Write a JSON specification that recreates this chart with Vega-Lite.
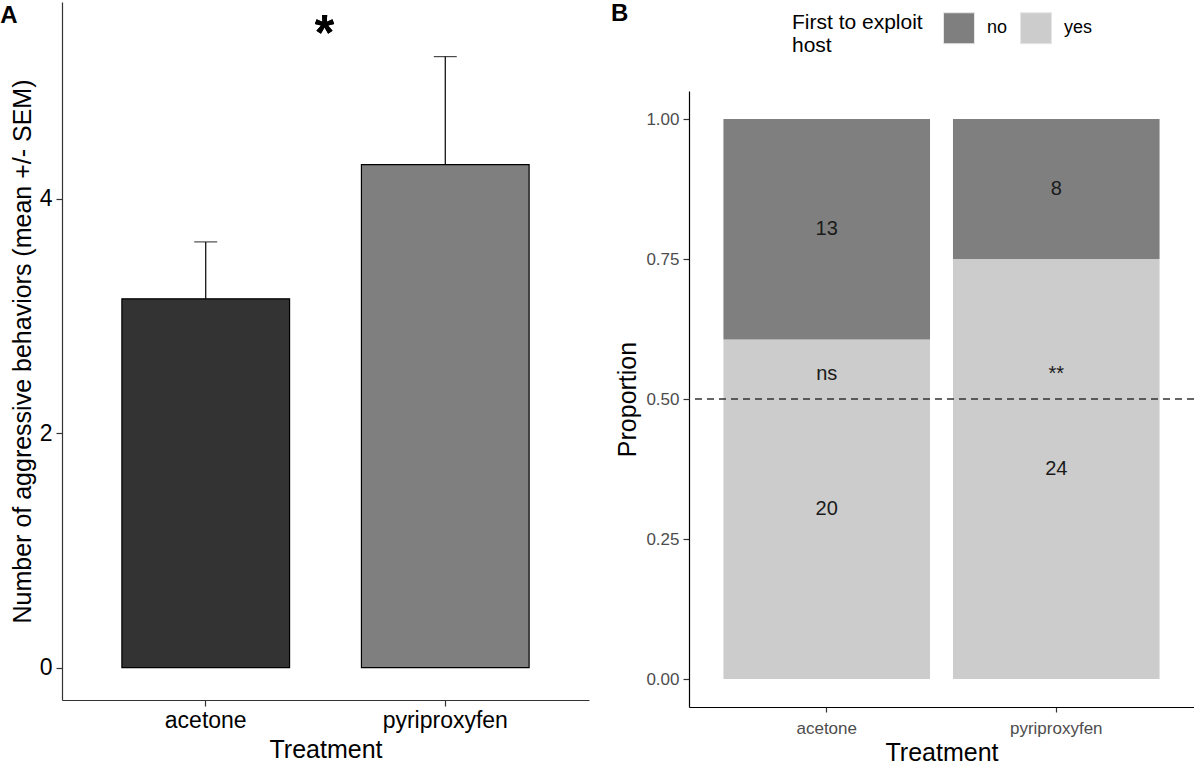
{
  "$schema": "https://vega.github.io/schema/vega-lite/v6.json",
  "padding": {"left": 0, "top": 2, "right": 0, "bottom": 0},
  "background": "white",
  "config": {"font": "Liberation Sans", "view": {"stroke": null}, "axis": {"grid": false}},
  "datasets": {
    "aggr": [
      {"treatment": "acetone", "mean": 3.147, "upper": 3.633},
      {"treatment": "pyriproxyfen", "mean": 4.293, "upper": 5.214}
    ],
    "first": [
      {"treatment": "acetone", "first": "yes", "n": 20},
      {"treatment": "acetone", "first": "no", "n": 13},
      {"treatment": "pyriproxyfen", "first": "yes", "n": 24},
      {"treatment": "pyriproxyfen", "first": "no", "n": 8}
    ],
    "annotB": [
      {"treatment": "acetone", "label": "ns", "y": 0.545},
      {"treatment": "pyriproxyfen", "label": "**", "y": 0.545}
    ]
  },
  "spacing": 21,
  "center": true,
  "hconcat": [
    {
      "width": 527,
      "height": 698,
      "title": {"text": "A", "anchor": "start", "frame": "bounds", "fontSize": 24, "fontWeight": "bold", "offset": -26, "dx": -10, "color": "black"},
      "data": {"name": "aggr"},
      "layer": [
        {
          "mark": {"type": "rule", "color": "black", "strokeWidth": 1.2},
          "encoding": {
            "x": {"field": "treatment", "type": "nominal", "scale": {"paddingInner": 0.3, "paddingOuter": 0.25},
                  "axis": {"title": ["Treatment", " ", " ", " ", " "], "titleLineHeight": 23, "titleFontSize": 25, "titleFontWeight": "normal", "titleColor": "black", "labelFontSize": 23, "labelColor": "black", "labelAngle": 0, "domainColor": "#333333", "tickColor": "#333333", "tickSize": 6, "labelPadding": 3, "titlePadding": 5, "domainWidth": 1.2, "tickWidth": 1.2}},
            "y": {"field": "mean", "type": "quantitative", "scale": {"domain": [-0.276, 5.68], "nice": false, "zero": false},
                  "axis": {"title": "Number of aggressive behaviors (mean +/- SEM)", "values": [0, 2, 4], "format": "d", "titleFontSize": 25, "titleFontWeight": "normal", "titleColor": "black", "labelFontSize": 23, "labelColor": "black", "domainColor": "#333333", "tickColor": "#333333", "tickSize": 6, "labelPadding": 4, "titlePadding": 4, "domainWidth": 1.2, "tickWidth": 1.2}},
            "y2": {"field": "upper"}
          }
        },
        {
          "mark": {"type": "tick", "color": "black", "size": 23, "thickness": 1.2},
          "encoding": {
            "x": {"field": "treatment", "type": "nominal"},
            "y": {"field": "upper", "type": "quantitative"}
          }
        },
        {
          "mark": {"type": "bar", "stroke": "black", "strokeWidth": 1.2},
          "encoding": {
            "x": {"field": "treatment", "type": "nominal"},
            "y": {"field": "mean", "type": "quantitative"},
            "fill": {"field": "treatment", "type": "nominal", "scale": {"domain": ["acetone", "pyriproxyfen"], "range": ["#333333", "#7f7f7f"]}, "legend": null}
          }
        },
        {
          "mark": {"type": "text", "text": "*", "fontSize": 50, "fontWeight": "bold", "baseline": "alphabetic", "color": "black"},
          "encoding": {
            "x": {"datum": "pyriproxyfen", "bandPosition": -0.22},
            "y": {"datum": 5.27}
          }
        }
      ]
    },
    {
      "width": 505,
      "height": 616,
      "title": {"text": "B", "anchor": "start", "frame": "bounds", "fontSize": 24, "fontWeight": "bold", "offset": -14, "dx": -5, "color": "black"},
      "layer": [
        {
          "data": {"name": "first"},
          "mark": {"type": "bar"},
          "encoding": {
            "x": {"field": "treatment", "type": "nominal", "scale": {"paddingInner": 0.1, "paddingOuter": 0.15},
                  "axis": {"title": "Treatment", "titleFontSize": 25, "titleFontWeight": "normal", "titleColor": "black", "labelFontSize": 17, "labelColor": "#4d4d4d", "labelAngle": 0, "domainColor": "black", "tickColor": "#333333", "tickSize": 5, "labelPadding": 8, "titlePadding": 4, "domainWidth": 1.2, "tickWidth": 1.2}},
            "y": {"aggregate": "sum", "field": "n", "type": "quantitative", "stack": "normalize", "scale": {"domain": [-0.05, 1.05], "nice": false, "zero": false},
                  "axis": {"title": "Proportion", "values": [0, 0.25, 0.5, 0.75, 1], "format": ".2f", "titleFontSize": 25, "titleFontWeight": "normal", "titleColor": "black", "labelFontSize": 17, "labelColor": "#4d4d4d", "domainColor": "black", "tickColor": "#333333", "tickSize": 6, "labelPadding": 4, "titlePadding": 5, "domainWidth": 1.2, "tickWidth": 1.2}},
            "color": {"field": "first", "type": "nominal", "scale": {"domain": ["no", "yes"], "range": ["#7f7f7f", "#cccccc"]},
                      "legend": {"orient": "none", "legendX": 103, "legendY": -79, "direction": "horizontal", "title": ["First to exploit", "host"], "titleOrient": "left", "titleFontSize": 21, "titleFontWeight": "normal", "titleColor": "black", "titleLineHeight": 23, "titlePadding": 20, "titleBaseline": "top", "titleAnchor": "start", "titleLimit": 300, "symbolType": "square", "symbolSize": 961, "symbolStrokeColor": "#e6e6e6", "symbolStrokeWidth": 1, "symbolOpacity": 1, "labelFontSize": 18, "labelColor": "black", "labelOffset": 12, "columnPadding": 10, "padding": 0}},
            "order": {"field": "first", "sort": "descending"}
          }
        },
        {
          "data": {"name": "first"},
          "mark": {"type": "text", "fontSize": 20, "color": "#1a1a1a", "baseline": "middle"},
          "encoding": {
            "x": {"field": "treatment", "type": "nominal"},
            "y": {"aggregate": "sum", "field": "n", "type": "quantitative", "stack": "normalize", "bandPosition": 0.5,
                  "axis": {"title": "Proportion", "values": [0, 0.25, 0.5, 0.75, 1], "format": ".2f", "titleFontSize": 25, "titleFontWeight": "normal", "titleColor": "black", "labelFontSize": 17, "labelColor": "#4d4d4d", "domainColor": "black", "tickColor": "#333333", "tickSize": 6, "labelPadding": 4, "titlePadding": 5, "domainWidth": 1.2, "tickWidth": 1.2}},
            "text": {"field": "n", "type": "quantitative"},
            "detail": {"field": "first"},
            "order": {"field": "first", "sort": "descending"}
          }
        },
        {
          "data": {"name": "annotB"},
          "mark": {"type": "text", "fontSize": 20, "color": "#1a1a1a", "baseline": "middle"},
          "encoding": {
            "x": {"field": "treatment", "type": "nominal"},
            "y": {"field": "y", "type": "quantitative",
                  "axis": {"title": "Proportion", "values": [0, 0.25, 0.5, 0.75, 1], "format": ".2f", "titleFontSize": 25, "titleFontWeight": "normal", "titleColor": "black", "labelFontSize": 17, "labelColor": "#4d4d4d", "domainColor": "black", "tickColor": "#333333", "tickSize": 6, "labelPadding": 4, "titlePadding": 5, "domainWidth": 1.2, "tickWidth": 1.2}},
            "text": {"field": "label"}
          }
        },
        {
          "data": {"name": "annotB"},
          "mark": {"type": "rule", "strokeDash": [7, 5], "color": "#333333", "strokeWidth": 1.2},
          "encoding": {"y": {"datum": 0.5}}
        }
      ]
    }
  ],
  "resolve": {"scale": {"color": "independent", "fill": "independent"}, "legend": {"color": "independent", "fill": "independent"}}
}
